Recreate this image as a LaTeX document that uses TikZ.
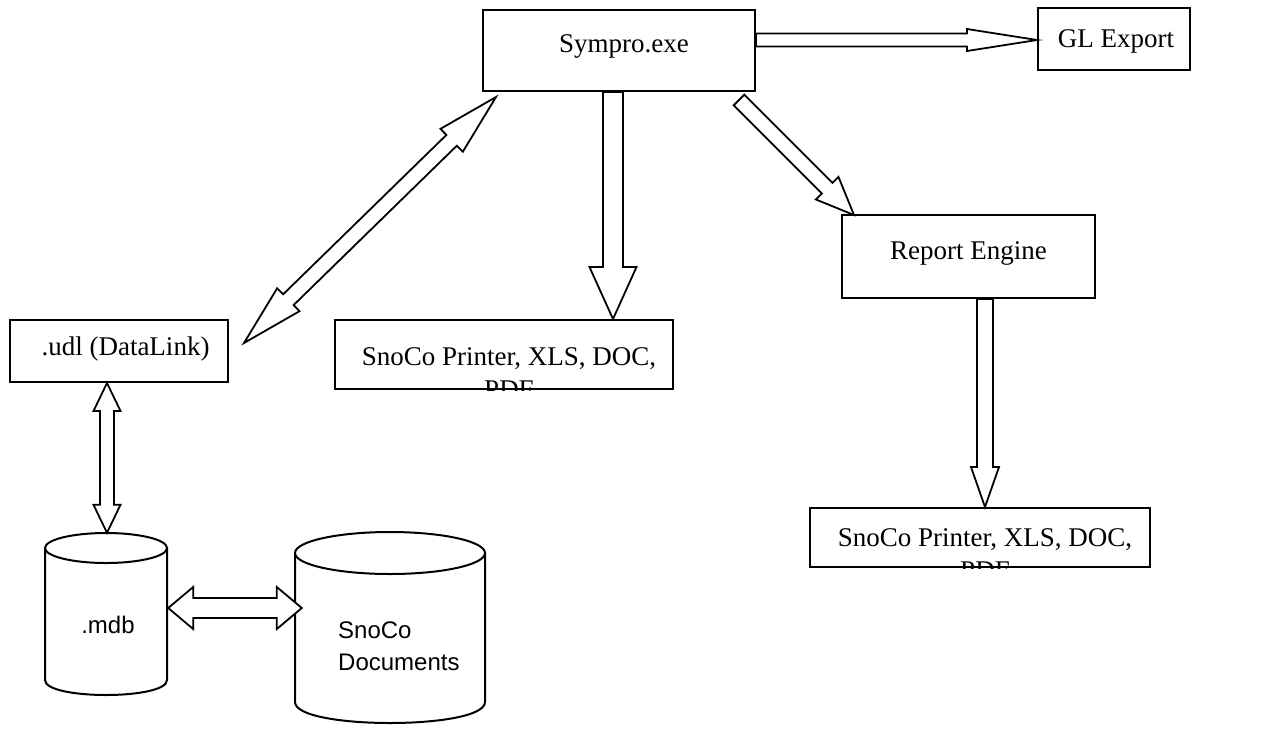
\documentclass[tikz,border=0pt]{standalone}
\usepackage{fontspec}
\setmainfont{Liberation Serif}
\newfontfamily\arialfont{Liberation Sans}
\usetikzlibrary{calc}
\tikzset{
  box/.style={draw, line width=2pt, fill=white, inner sep=0pt},
  lbl/.style={font=\fontsize{27}{33}\selectfont, inner sep=0pt},
  slbl/.style={font=\arialfont\fontsize{24}{32}\selectfont, inner sep=0pt, align=left},
  blk/.style={draw, line width=1.8pt, fill=white, line join=miter},
  cyl/.style={draw, line width=2pt, fill=white},
}
\newcommand\blkarrow[5]{%
  \coordinate (bh) at ($(#2)!#5!(#1)$);
  \draw[blk] ($(#1)!#3!90:(#2)$) -- ($(bh)!#3!90:(#2)$) -- ($(bh)!#4!90:(#2)$) -- (#2)
     -- ($(bh)!#4!-90:(#2)$) -- ($(bh)!#3!-90:(#2)$) -- ($(#1)!#3!-90:(#2)$) -- cycle;}
\newcommand\dblarrow[5]{%
  \coordinate (bhA) at ($(#1)!#5!(#2)$);
  \coordinate (bhB) at ($(#2)!#5!(#1)$);
  \draw[blk] (#1) -- ($(bhA)!#4!90:(#2)$) -- ($(bhA)!#3!90:(#2)$) -- ($(bhB)!#3!90:(#2)$)
     -- ($(bhB)!#4!90:(#2)$) -- (#2) -- ($(bhB)!#4!-90:(#2)$) -- ($(bhB)!#3!-90:(#2)$)
     -- ($(bhA)!#3!-90:(#2)$) -- ($(bhA)!#4!-90:(#2)$) -- cycle;}
\begin{document}
\begin{tikzpicture}[x=1pt,y=-1pt]
\useasboundingbox (0,0) rectangle (1275,732);

% boxes
\node[box, minimum width=272, minimum height=81] (sym) at (619,50.5) {};
\node[lbl, anchor=base] at ($(sym.center)+(5,1.5)$) {Sympro.exe};

\node[box, minimum width=152, minimum height=62] (gl) at (1114,39) {};
\node[lbl, anchor=base] at ($(gl.center)+(2,8)$) {GL Export};

\node[box, minimum width=253, minimum height=83] (rep) at (968.5,256.5) {};
\node[lbl, anchor=base] at ($(rep.center)+(0,2.5)$) {Report Engine};

\node[box, minimum width=218, minimum height=62] (udl) at (119,351) {};
\node[lbl, anchor=base] at ($(udl.center)+(6.5,4)$) {.udl (DataLink)};

\node[box, minimum width=338, minimum height=69] (p1) at (504,354.5) {};
\begin{scope}
  \clip (p1.south west) rectangle (p1.north east);
  \node[lbl, anchor=base] at ($(p1.center)+(5,10.5)$) {SnoCo Printer, XLS, DOC,};
  \node[lbl, anchor=base] at ($(p1.center)+(5,43.5)$) {PDF};
\end{scope}

\node[box, minimum width=340, minimum height=59] (p2) at (980,537.5) {};
\begin{scope}
  \clip (p2.south west) rectangle (p2.north east);
  \node[lbl, anchor=base] at ($(p2.center)+(5,8.5)$) {SnoCo Printer, XLS, DOC,};
  \node[lbl, anchor=base] at ($(p2.center)+(5,41.5)$) {PDF};
\end{scope}

% cylinders
\node[inner sep=0pt, minimum width=122, minimum height=162] (mdb) at (106,614) {};
\draw[cyl] (45,548) -- (45,680) .. controls (45,700) and (167,700) .. (167,680) -- (167,548) -- cycle;
\draw[cyl] (106,548) ellipse [x radius=61, y radius=15];
\node[slbl, anchor=base] at (108,633) {.mdb};

\node[inner sep=0pt, minimum width=190, minimum height=191] (docs) at (390,627.5) {};
\draw[cyl] (295,553) -- (295,702) .. controls (295,730) and (485,730) .. (485,702) -- (485,553) -- cycle;
\draw[cyl] (390,553) ellipse [x radius=95, y radius=21];
\node[slbl, anchor=north west] at (338,622) {SnoCo\\Documents};

% block arrows
\coordinate (a1s) at ($(sym.south)+(-6,0)$);
\coordinate (a1e) at (a1s |- p1.north);
\blkarrow{a1s}{a1e}{10pt}{23.5pt}{52pt}

\coordinate (a2s) at ($(sym.east)+(0,-10.5)$);
\coordinate (a2e) at (a2s -| gl.west);
\blkarrow{a2s}{a2e}{6.5pt}{11pt}{70pt}

\coordinate (a3e) at ($(rep.north west)+(13,1)$);
\coordinate (a3s) at ($(a3e)+(-115,-115)$);
\blkarrow{a3s}{a3e}{7.5pt}{16pt}{38pt}

\coordinate (a4s) at ($(rep.south)+(16.5,0)$);
\coordinate (a4e) at (a4s |- p2.north);
\blkarrow{a4s}{a4e}{8pt}{14pt}{40pt}

\coordinate (a5s) at ($(udl.south)+(-12,0)$);
\coordinate (a5e) at (a5s |- mdb.north);
\dblarrow{a5s}{a5e}{7pt}{13.5pt}{28pt}

\coordinate (a6s) at ($(mdb.east)+(1,-6)$);
\coordinate (a6e) at ($(a6s -| docs.west)+(7,0)$);
\dblarrow{a6s}{a6e}{10pt}{21pt}{25pt}

\coordinate (a7s) at ($(udl.east)+(15,-8)$);
\coordinate (a7e) at ($(sym.south west)+(14,5)$);
\dblarrow{a7s}{a7e}{7.5pt}{16pt}{62pt}

\end{tikzpicture}
\end{document}
